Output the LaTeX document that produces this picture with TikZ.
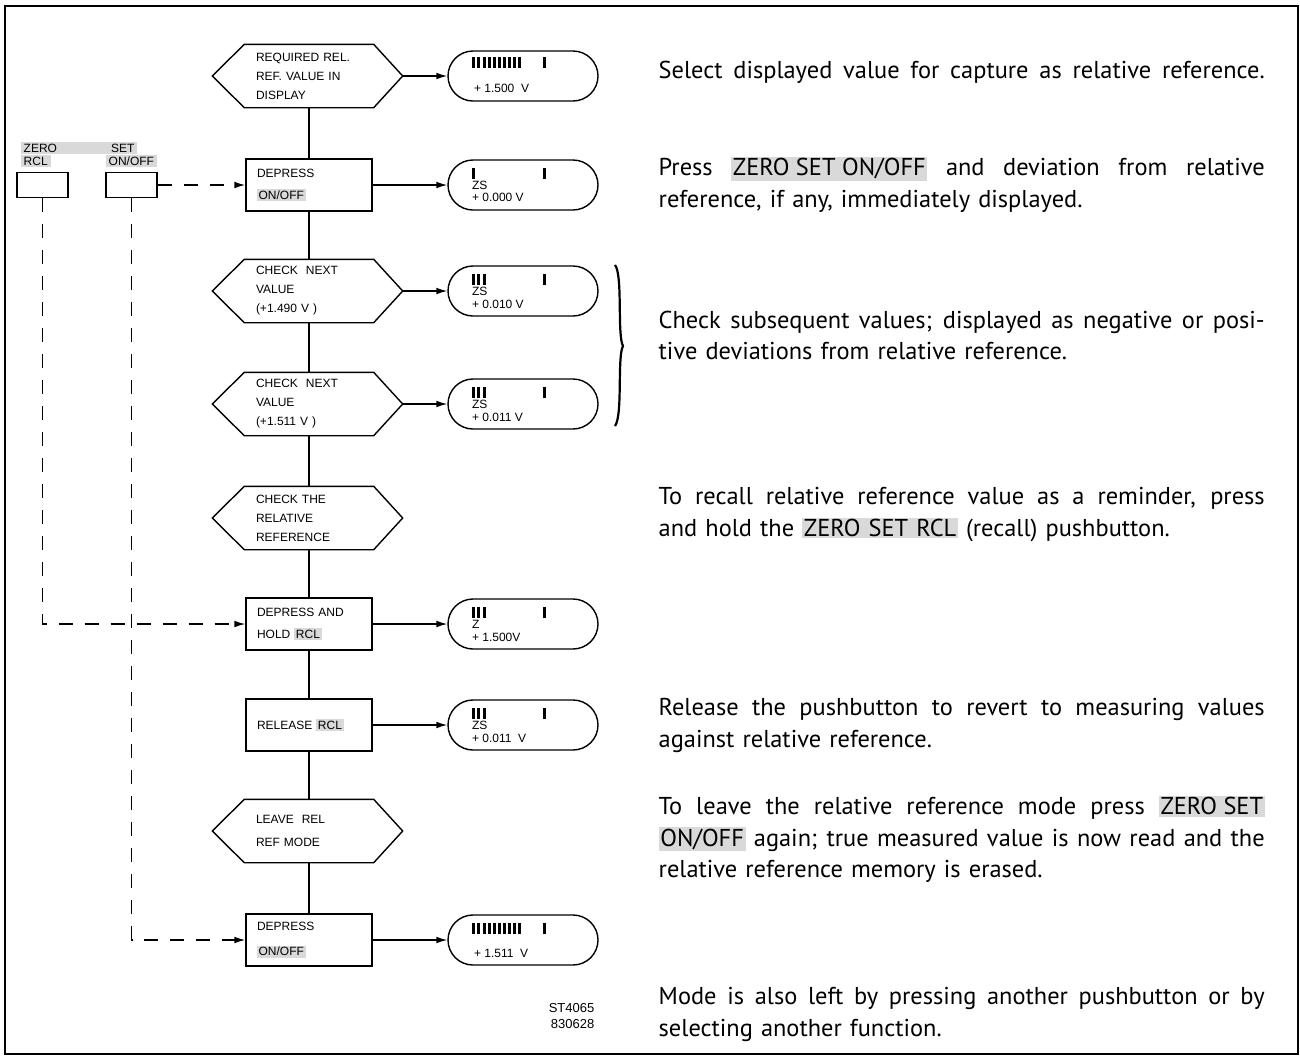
\documentclass[tikz,border=0pt]{standalone}
\usepackage{fontspec}
\setmainfont{PT Sans}
\newfontfamily\diag{Liberation Sans}
\usetikzlibrary{arrows.meta,calc}
\definecolor{hl}{gray}{0.85}
\newcommand{\hlt}[1]{{\setlength{\fboxsep}{0.8pt}\colorbox{hl}{#1}}}
\newcommand{\diagf}{\diag\fontsize{6}{9.5}\selectfont}
\newcommand{\notef}{\fontsize{12.2}{15.75}\selectfont}
\newcommand{\fl}[1]{\leavevmode\hbox to 303pt{\spaceskip=\fontdimen2\font plus 1fil\relax\xspaceskip=\spaceskip #1}}
\newcommand{\hexout}[1]{\draw (#1.north west) -- (#1.north east) -- ([xshift=14.5pt]#1.east) -- (#1.south east) -- (#1.south west) -- ([xshift=-16pt]#1.west) -- cycle;}
\newcommand{\dbars}[3]{%
  \foreach \i in {0,...,#2} \fill ($(#1.west)+(25+5.1*\i,#3)$) rectangle ++(3,10.5);
  \fill ($(#1.west)+(96,#3)$) rectangle ++(3,10.5);}
\begin{document}
\begin{tikzpicture}[x=0.5pt,y=-0.5pt, line width=0.7pt,
 hexn/.style={rectangle, minimum width=64pt, minimum height=31pt, text width=53pt, inner xsep=5.5pt, inner ysep=0pt, align=left, font=\diagf},
 boxn/.style={rectangle, draw, minimum width=63pt, minimum height=26pt, text width=52pt, inner xsep=5.5pt, inner ysep=0pt, align=left, font=\diagf},
 disp/.style={rectangle, rounded corners=12.5pt, draw, minimum width=75pt, minimum height=25pt, inner sep=0pt},
 btn/.style={rectangle, draw, minimum width=25.5pt, minimum height=12.5pt, inner sep=0pt},
 lbl/.style={font=\diagf, inner xsep=1.5pt, inner ysep=1pt, fill=hl, anchor=west},
 dtxt/.style={font=\diagf, inner sep=0pt, anchor=west},
 arr/.style={-{Latex[length=5.5pt,width=3.4pt]}},
 dsh/.style={dash pattern=on 7pt off 6pt},
 note/.style={text width=303pt, align=left, inner sep=0pt, anchor=north west, font=\notef},
]
\useasboundingbox (0,0) rectangle (1300,1056);
\draw[line width=1.1pt] (5,6) rectangle (1298,1054);

% flow nodes
\node[hexn] (h1) at (309,76) {REQUIRED REL.\\REF. VALUE IN\\DISPLAY};
\hexout{h1}
\node[boxn] (b2) at (309,185) {DEPRESS\\[1.5pt]\hlt{ON/OFF}};
\node[hexn] (h3) at (309,291) {CHECK~~NEXT\\VALUE\\(+1.490 V )};
\hexout{h3}
\node[hexn] (h4) at (309,404) {CHECK~~NEXT\\VALUE\\(+1.511 V )};
\hexout{h4}
\node[hexn] (h5) at (309,518) {CHECK THE\\RELATIVE\\REFERENCE};
\hexout{h5}
\node[boxn] (b6) at (309,624) {DEPRESS AND\\[1.5pt]HOLD \hlt{RCL}};
\node[boxn] (b7) at (309,725) {RELEASE \hlt{RCL}};
\node[hexn] (h8) at (309,831) {LEAVE~~REL\\[2pt]REF MODE};
\hexout{h8}
\node[boxn] (b9) at (309,940) {DEPRESS\\[3pt]\hlt{ON/OFF}};

% displays
\node[disp] (d1) at (523,76) {};
\node[disp] (d2) at (523,185) {};
\node[disp] (d3) at (523,291) {};
\node[disp] (d4) at (523,404) {};
\node[disp] (d6) at (523,624) {};
\node[disp] (d7) at (523,725) {};
\node[disp] (d9) at (523,940) {};

\dbars{d1}{9}{-19}
\node[dtxt] (t1) at ($(d1.west)+(26,12.5)$) {+ 1.500~~V};
\dbars{d2}{0}{-17}
\node[dtxt] (t2a) at ($(d2.west)+(24,0)$) {ZS};
\node[dtxt] (t2b) at ($(d2.west)+(24,12.5)$) {+ 0.000 V};
\dbars{d3}{2}{-17}
\node[dtxt] (t3a) at ($(d3.west)+(24,0.5)$) {ZS};
\node[dtxt] (t3b) at ($(d3.west)+(24,13)$) {+ 0.010 V};
\dbars{d4}{2}{-17}
\node[dtxt] (t4a) at ($(d4.west)+(24,0.5)$) {ZS};
\node[dtxt] (t4b) at ($(d4.west)+(24,13)$) {+ 0.011 V};
\dbars{d6}{2}{-17}
\node[dtxt] (t6a) at ($(d6.west)+(24,0.5)$) {Z};
\node[dtxt] (t6b) at ($(d6.west)+(24,13)$) {+ 1.500V};
\dbars{d7}{2}{-17}
\node[dtxt] (t7a) at ($(d7.west)+(24,0.5)$) {ZS};
\node[dtxt] (t7b) at ($(d7.west)+(24,13)$) {+ 0.011~~V};
\dbars{d9}{9}{-17}
\node[dtxt] (t9) at ($(d9.west)+(26,13)$) {+ 1.511~~V};

% vertical flow line
\draw (h1.south) -- (b2.north);
\draw (b2.south) -- (h3.north);
\draw (h3.south) -- (h4.north);
\draw (h4.south) -- (h5.north);
\draw (h5.south) -- (b6.north);
\draw (b6.south) -- (b7.north);
\draw (b7.south) -- (h8.north);
\draw (h8.south) -- (b9.north);

% horizontal arrows
\draw[arr, shorten <=14.5pt] (h1.east) -- (d1.west);
\draw[arr] (b2.east) -- (d2.west);
\draw[arr, shorten <=14.5pt] (h3.east) -- (d3.west);
\draw[arr, shorten <=14.5pt] (h4.east) -- (d4.west);
\draw[arr] (b6.east) -- (d6.west);
\draw[arr] (b7.east) -- (d7.west);
\draw[arr] (b9.east) -- (d9.west);

% push buttons
\node[lbl] (lz) at (20,148) {ZERO\hspace{27pt}SET};
\node[lbl] (lr) at (20,161) {RCL};
\node[lbl] (lo) at (105,161) {ON/OFF};
\node[btn] (zr) at (42.5,185) {};
\node[btn] (ss) at (131.5,185) {};
\draw[dsh, arr] (ss.east) -- (b2.west);
\draw[dsh, arr] (zr.south) |- (b6.west);
\draw[dsh, arr] (ss.south) |- (b9.west);

% brace
\draw[line width=1.1pt] (615,265) .. controls (623,275) and (617,335) .. (623,346) .. controls (617,357) and (623,415) .. (615,426);

% drawing number
\node[font=\diag\fontsize{6.5}{8}\selectfont, align=right, anchor=east, inner sep=0pt] (st) at (595,1016) {ST4065\\830628};

% notes
\node[note] (n1) at (658,60) {\fl{Select displayed value for capture as relative reference.}};
\node[note] (n2) at (658,156) {\fl{Press \hlt{ZERO SET ON/OFF} and deviation from relative}\\reference, if any, immediately displayed.};
\node[note] (n3) at (658,310) {\fl{Check subsequent values; displayed as negative or posi-}\\tive deviations from relative reference.};
\node[note] (n4) at (658,487) {\fl{To recall relative reference value as a reminder, press}\\and hold the \hlt{ZERO SET RCL} (recall) pushbutton.};
\node[note] (n5) at (658,698) {\fl{Release the pushbutton to revert to measuring values}\\against relative reference.};
\node[note] (n6) at (658,795) {\fl{To leave the relative reference mode press \hlt{ZERO SET}}\\\fl{\hlt{ON/OFF} again; true measured value is now read and the}\\relative reference memory is erased.};
\node[note] (n7) at (658,987) {\fl{Mode is also left by pressing another pushbutton or by}\\selecting another function.};
\end{tikzpicture}
\end{document}
